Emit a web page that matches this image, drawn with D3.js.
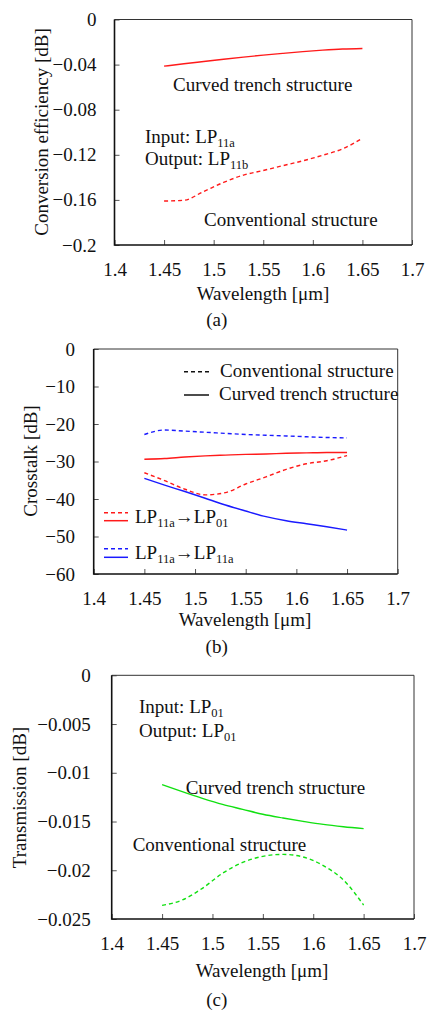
<!DOCTYPE html>
<html>
<head>
<meta charset="utf-8">
<script src="https://cdn.jsdelivr.net/npm/d3@7"></script>
<style>
  body { margin: 0; background: #fff; }
  text { font-family: "Liberation Serif", "Times New Roman", serif; fill: #111; }
</style>
</head>
<body>
<script>
// ---- data ----
const wavelength = [1.45, 1.47, 1.49, 1.51, 1.53, 1.55, 1.57, 1.59, 1.61, 1.63, 1.65];

const xTicks = [1.4, 1.45, 1.5, 1.55, 1.6, 1.65, 1.7];
const xTickLabels = ["1.4", "1.45", "1.5", "1.55", "1.6", "1.65", "1.7"];

// (a) conversion efficiency LP11a -> LP11b [dB]
const effTicks = [0, -0.04, -0.08, -0.12, -0.16, -0.2];
const effTickLabels = ["0", "\u22120.04", "\u22120.08", "\u22120.12", "\u22120.16", "\u22120.2"];
const effCurved = [-0.0414, -0.0393, -0.0373, -0.0353, -0.0334, -0.0316, -0.0300, -0.0285, -0.0272, -0.0262, -0.0257];
const effConventional = [-0.161, -0.1603, -0.1525, -0.1445, -0.1380, -0.1339, -0.1296, -0.1253, -0.1204, -0.1147, -0.1054];

// (b) crosstalk [dB]
const xtalkTicks = [0, -10, -20, -30, -40, -50, -60];
const xtalkTickLabels = ["0", "\u221210", "\u221220", "\u221230", "\u221240", "\u221250", "\u221260"];
const xtalk01Conventional = [-33.0, -35.1, -37.4, -38.9, -38.3, -36.0, -34.1, -32.1, -30.6, -29.8, -28.4];
const xtalk01Curved = [-29.4, -29.2, -28.8, -28.5, -28.3, -28.1, -28.0, -27.8, -27.7, -27.6, -27.6];
const xtalk11aConventional = [-22.8, -21.6, -21.9, -22.2, -22.5, -22.8, -23.0, -23.2, -23.4, -23.6, -23.7];
const xtalk11aCurved = [-34.5, -36.3, -38.0, -39.8, -41.6, -43.2, -44.7, -45.8, -46.6, -47.4, -48.3];

// (c) transmission LP01 -> LP01 [dB]
const transTicks = [0, -0.005, -0.01, -0.015, -0.02, -0.025];
const transTickLabels = ["0", "\u22120.005", "\u22120.01", "\u22120.015", "\u22120.02", "\u22120.025"];
const transCurved = [-0.01122, -0.01194, -0.01262, -0.01324, -0.01375, -0.01426, -0.01464, -0.01498, -0.01529, -0.01553, -0.01573];
const transConventional = [-0.0236, -0.02305, -0.02185, -0.02031, -0.01919, -0.01857, -0.01837, -0.01864, -0.01953, -0.0210, -0.02357];

const RED = "#ff1a1a", BLUE = "#1a1aff", GREEN = "#11e011";
const DASH = "4,3";

const svg = d3.select("body").append("svg")
    .attr("width", 427)
    .attr("height", 1012);

// writes text with subscript pieces: parts = [[text, isSub], ...]
function rich(g, x, y, parts, size, anchor) {
    const t = g.append("text")
        .attr("x", x).attr("y", y)
        .attr("font-size", size)
        .attr("text-anchor", anchor || "start");
    let sub = false;
    parts.forEach(([s, isSub]) => {
        const dy = isSub && !sub ? 4 : (!isSub && sub ? -4 : 0);
        t.append("tspan")
            .attr("dy", dy)
            .attr("font-size", isSub ? 12.5 : size)
            .text(s);
        sub = isSub;
    });
    return t;
}

class LinePanel {
    constructor(config) {
        this.config = config;
        this.init();
        this.render();
    }
    init() {
        let self = this;
        let c = self.config;
        self.g = svg.append("g");
        self.xscale = d3.scaleLinear().domain([1.4, 1.7]).range([c.left, c.right]);
        self.yscale = d3.scaleLinear().domain([d3.min(c.yTicks), 0]).range([c.bottom, c.top]);
        self.xaxis = d3.axisBottom(self.xscale)
            .tickValues(xTicks)
            .tickFormat((d, i) => xTickLabels[i])
            .tickSizeInner(-5).tickSizeOuter(0)
            .tickPadding(17.5);
        self.yaxis = d3.axisLeft(self.yscale)
            .tickValues(c.yTicks)
            .tickFormat((d, i) => c.yTickLabels[i])
            .tickSizeInner(-5).tickSizeOuter(0)
            .tickPadding(c.yPad);
    }
    render() {
        let self = this;
        let c = self.config;
        const xg = self.g.append("g")
            .attr("transform", `translate(0,${c.bottom})`)
            .call(self.xaxis);
        const yg = self.g.append("g")
            .attr("transform", `translate(${c.left},0)`)
            .call(self.yaxis);
        [xg, yg].forEach(a => {
            a.select(".domain").remove();
            a.selectAll(".tick line").attr("stroke", "#555").attr("stroke-width", 1);
            a.selectAll("text")
                .attr("font-family", "Liberation Serif")
                .attr("font-size", 19)
                .attr("fill", "#111");
        });

        // frame
        self.g.append("path")
            .attr("d", `M${c.left},${c.top}H${c.right}V${c.bottom}`)
            .attr("fill", "none").attr("stroke", "#333").attr("stroke-width", 1);
        self.g.append("path")
            .attr("d", `M${c.left},${c.top}V${c.bottom}H${c.right}`)
            .attr("fill", "none").attr("stroke", "#111").attr("stroke-width", 1.6);

        const line = d3.line()
            .x((d, i) => self.xscale(wavelength[i]))
            .y(d => self.yscale(d))
            .curve(d3.curveMonotoneX);
        c.series.forEach(s => {
            self.g.append("path")
                .datum(s.values)
                .attr("d", line)
                .attr("fill", "none")
                .attr("stroke", s.color)
                .attr("stroke-width", 1.4)
                .attr("stroke-dasharray", s.dashed ? DASH : null);
        });

        // axis titles
        self.g.append("text")
            .attr("x", c.xTitleX).attr("y", c.xTitleY)
            .attr("text-anchor", "middle").attr("font-size", 19)
            .text("Wavelength [\u03bcm]");
        self.g.append("text")
            .attr("transform", `translate(${c.yTitleX},${c.yTitleY}) rotate(-90)`)
            .attr("text-anchor", "middle").attr("font-size", 19)
            .text(c.yTitle);
        self.g.append("text")
            .attr("x", 216.7).attr("y", c.captionY)
            .attr("text-anchor", "middle").attr("font-size", 19)
            .text(c.caption);

        (c.notes || []).forEach(n => rich(self.g, n.x, n.y, n.parts, 19));

        (c.legend || []).forEach(l => {
            self.g.append("line")
                .attr("x1", l.x1).attr("x2", l.x2)
                .attr("y1", l.y).attr("y2", l.y)
                .attr("stroke", l.color).attr("stroke-width", 1.5)
                .attr("stroke-dasharray", l.dashed ? DASH : null);
        });
    }
}

new LinePanel({
    left: 114.5, right: 412, top: 19.5, bottom: 245, yPad: 18,
    yTicks: effTicks, yTickLabels: effTickLabels,
    yTitle: "Conversion efficiency [dB]", yTitleX: 48, yTitleY: 132,
    xTitleX: 263, xTitleY: 300, caption: "(a)", captionY: 326,
    series: [
        { values: effCurved, color: RED, dashed: false },
        { values: effConventional, color: RED, dashed: true }
    ],
    notes: [
        { x: 173, y: 91, parts: [["Curved trench structure", false]] },
        { x: 145, y: 142.5, parts: [["Input: LP", false], ["11a", true]] },
        { x: 145, y: 165, parts: [["Output: LP", false], ["11b", true]] },
        { x: 204, y: 226, parts: [["Conventional structure", false]] }
    ]
});

new LinePanel({
    left: 93.7, right: 397.7, top: 349, bottom: 574, yPad: 18.7,
    yTicks: xtalkTicks, yTickLabels: xtalkTickLabels,
    yTitle: "Crosstalk [dB]", yTitleX: 36.5, yTitleY: 461,
    xTitleX: 245, xTitleY: 626, caption: "(b)", captionY: 653,
    series: [
        { values: xtalk11aConventional, color: BLUE, dashed: true },
        { values: xtalk01Curved, color: RED, dashed: false },
        { values: xtalk01Conventional, color: RED, dashed: true },
        { values: xtalk11aCurved, color: BLUE, dashed: false }
    ],
    notes: [
        { x: 220, y: 376.7, parts: [["Conventional structure", false]] },
        { x: 219, y: 400, parts: [["Curved trench structure", false]] },
        { x: 135, y: 522.7, parts: [["LP", false], ["11a", true], ["\u2192LP", false], ["01", true]] },
        { x: 135, y: 559.3, parts: [["LP", false], ["11a", true], ["\u2192LP", false], ["11a", true]] }
    ],
    legend: [
        { x1: 184, x2: 209, y: 371.7, color: "#111", dashed: true },
        { x1: 184, x2: 209, y: 395, color: "#111", dashed: false },
        { x1: 104, x2: 128, y: 512.7, color: RED, dashed: true },
        { x1: 104, x2: 128, y: 520.7, color: RED, dashed: false },
        { x1: 104, x2: 128, y: 548.7, color: BLUE, dashed: true },
        { x1: 104, x2: 128, y: 557.3, color: BLUE, dashed: false }
    ]
});

new LinePanel({
    left: 111.7, right: 414, top: 675.3, bottom: 919, yPad: 21,
    yTicks: transTicks, yTickLabels: transTickLabels,
    yTitle: "Transmission [dB]", yTitleX: 25.5, yTitleY: 797.5,
    xTitleX: 262, xTitleY: 977, caption: "(c)", captionY: 1006,
    series: [
        { values: transCurved, color: GREEN, dashed: false },
        { values: transConventional, color: GREEN, dashed: true }
    ],
    notes: [
        { x: 139, y: 713.3, parts: [["Input: LP", false], ["01", true]] },
        { x: 139, y: 736.7, parts: [["Output: LP", false], ["01", true]] },
        { x: 185.7, y: 794, parts: [["Curved trench structure", false]] },
        { x: 132.7, y: 850.7, parts: [["Conventional structure", false]] }
    ]
});
</script>
</body>
</html>
